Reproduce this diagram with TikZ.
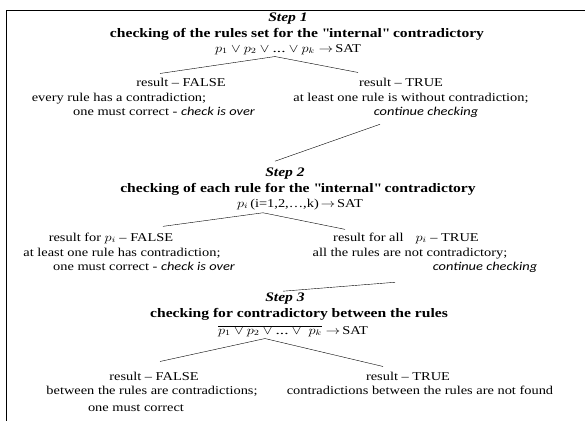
\documentclass[tikz,border=0pt]{standalone}
\usepackage{fontspec}
\setmainfont[FakeStretch=1.2]{Liberation Serif}
\newfontfamily\calfont[FakeStretch=1.2]{Carlito}
\usepackage{graphicx}
\usetikzlibrary{positioning}

\newcommand{\wm}[1]{\scalebox{1.2}[1]{$#1$}}
\newcommand{\calit}[1]{{\calfont\itshape #1}}

\begin{document}
\begin{tikzpicture}[x=1pt,y=-1pt,
  txt/.style={inner sep=0pt,anchor=base,font=\fontsize{12}{14}\selectfont},
  head/.style={txt,font=\fontsize{13}{14}\selectfont\bfseries}]
  \useasboundingbox (0,0) rectangle (585,421);
  \draw (585,10) -- (6,10) -- (6,421);

  % step 1
  \node[head] (st1) at (288,21) {\textit{Step 1}};
  \node[head] (tt1) at (297,37) {checking of the rules set for the \textquotedbl internal\textquotedbl{} contradictory};
  \node[txt] (fm1) at (288,52) {\wm{p_1\vee p_2\vee\mbox{...}\vee p_k\rightarrow}\,SAT};
  \node[txt] (fa1) at (181,86) {result -- FALSE};
  \node[txt] (fb1) at (119,101) {every rule has a contradiction;};
  \node[txt] (fc1) at (164,115) {one must correct - \calit{check is over}};
  \node[txt] (ta1) at (401,86) {result -- TRUE};
  \node[txt] (tb1) at (411,101) {at least one rule is without contradiction;};
  \node[txt] (tc1) at (426,115) {\calit{continue checking}};
  \draw ([xshift=-21pt,yshift=4pt]fa1.north) -- ([xshift=-13pt,yshift=-2pt]fm1.south)
     -- ([xshift=-43pt,yshift=5pt]ta1.north);

  % step 2
  \node[head] (st2) at (285,176) {\textit{Step 2}};
  \node[head] (tt2) at (298,192) {checking of each rule for the \textquotedbl internal\textquotedbl{} contradictory};
  \node[txt] (fm2) at (300,207) {\wm{p_i}\,(i=1,2,\ldots,k)\,\wm{\rightarrow}\,SAT};
  \node[txt] (fa2) at (111,241) {result for \wm{p_i} -- FALSE};
  \node[txt] (fb2) at (122,256) {at least one rule has contradiction;};
  \node[txt] (fc2) at (144,270) {one must correct - \calit{check is over}};
  \node[txt] (ta2) at (406,241) {result for all\quad\wm{p_i} -- TRUE};
  \node[txt] (tb2) at (410,256) {all the rules are not contradictory;};
  \node[txt] (tc2) at (485,270) {\calit{continue checking}};
  \draw ([xshift=-46pt,yshift=-7pt]tc1.south) -- ([xshift=-10pt,yshift=6pt]st2.north);
  \draw ([xshift=52pt,yshift=6pt]fa2.north) -- ([xshift=-37pt,yshift=-3pt]fm2.south)
     -- ([xshift=-61pt,yshift=3pt]ta2.north);

  % step 3
  \node[head] (st3) at (285,301) {\textit{Step 3}};
  \node[head] (tt3) at (299,317) {checking for contradictory between the rules};
  \node[txt] (fm3) at (293,334) {\wm{\overline{p_1\vee p_2\vee\mbox{...}\vee\;p_k}\rightarrow}\,SAT};
  \node[txt] (fa3) at (154,380) {result -- FALSE};
  \node[txt] (fb3) at (152,394) {between the rules are contradictions;};
  \node[txt] (fc3) at (136,411) {one must correct};
  \node[txt] (ta3) at (408,380) {result -- TRUE};
  \node[txt] (tb3) at (420,394) {contradictions between the rules are not found};
  \draw ([xshift=-90pt,yshift=-10pt]tc2.south) -- ([xshift=-2pt,yshift=1pt]st3.north);
  \draw ([xshift=6pt,yshift=10pt]fa3.north) -- ([xshift=-28pt,yshift=-2pt]fm3.south)
     -- ([xshift=-25pt,yshift=5pt]ta3.north);
\end{tikzpicture}
\end{document}
